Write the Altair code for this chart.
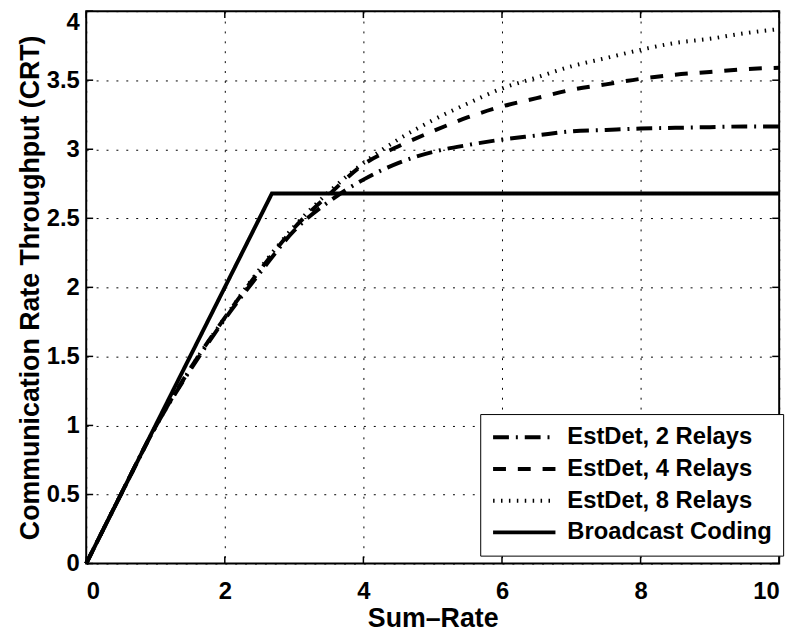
import altair as alt
import pandas as pd

# ---- data ----
x_vals = [0, 0.5, 1, 1.5, 2, 2.5, 3, 3.5, 4, 4.5, 5, 5.5, 6, 6.5, 7, 7.5, 8, 8.5, 9, 9.5, 10]
relay2 = [0, 0.50, 0.99, 1.40, 1.77, 2.10, 2.41, 2.62, 2.78, 2.90, 2.98, 3.03, 3.07, 3.10, 3.13, 3.14, 3.15, 3.155, 3.16, 3.165, 3.165]
relay4 = [0, 0.50, 0.99, 1.41, 1.78, 2.12, 2.43, 2.67, 2.89, 3.02, 3.13, 3.23, 3.31, 3.37, 3.43, 3.47, 3.51, 3.54, 3.56, 3.58, 3.59]
relay8 = [0, 0.50, 0.99, 1.41, 1.78, 2.13, 2.44, 2.69, 2.90, 3.07, 3.21, 3.33, 3.44, 3.52, 3.60, 3.66, 3.72, 3.77, 3.80, 3.84, 3.87]
bc_x = [0, 2.68, 10]
bc_y = [0, 2.68, 2.68]

series_names = ["EstDet, 2 Relays", "EstDet, 4 Relays", "EstDet, 8 Relays", "Broadcast Coding"]
x_ticks = [0, 2, 4, 6, 8, 10]
y_ticks = [0, 0.5, 1, 1.5, 2, 2.5, 3, 3.5, 4]

FONT = "Liberation Sans"

rows = []
for name, ys in zip(series_names[:3], [relay2, relay4, relay8]):
    for i, (xv, yv) in enumerate(zip(x_vals, ys)):
        rows.append({"x": xv, "y": yv, "series": name, "order": i})
est_df = pd.DataFrame(rows)
bc_df = pd.DataFrame({"x": bc_x, "y": bc_y, "series": series_names[3], "order": list(range(len(bc_x)))})

xt_df = pd.DataFrame({"t": x_ticks})
yt_df = pd.DataFrame({"t": y_ticks})

x_scale = alt.Scale(domain=[0, 10], nice=False, zero=False)
y_scale = alt.Scale(domain=[0, 4], nice=False, zero=False)

dash_scale = alt.Scale(
    domain=series_names,
    range=[[16, 7, 2, 7], [13, 12], [1.5, 6.5], [1, 0]],
)

x_axis = alt.Axis(
    values=x_ticks, format="~g", title="Sum\u2013Rate", grid=True, ticks=False, domain=False,
    gridDash=[2, 8], gridColor="black", gridWidth=1, gridOpacity=1,
    labelPadding=16, titlePadding=3,
)
y_axis = alt.Axis(
    values=y_ticks, format="~g", title="Communication Rate Throughput (CRT)", grid=True,
    ticks=False, domain=False,
    gridDash=[2, 8], gridColor="black", gridWidth=1, gridOpacity=1,
    labelPadding=7, titlePadding=2,
    labelBaseline=alt.condition("datum.value == 4", alt.value("top"), alt.value("middle")),
)

legend = alt.Legend(
    title=None, orient="none", legendX=398, legendY=407,
    symbolType="M-1,0H5", symbolSize=441, symbolStrokeWidth=4,
    symbolStrokeColor="black", symbolFillColor="transparent",
    labelOffset=52, labelFontSize=24, labelFont=FONT, labelFontWeight="bold",
    labelColor="black", labelLimit=400,
    fillColor="white", strokeColor="black", padding=11, rowPadding=7,
)

est = alt.Chart(est_df).mark_line(color="black", strokeWidth=4, interpolate="monotone").encode(
    x=alt.X("x:Q", scale=x_scale, axis=x_axis),
    y=alt.Y("y:Q", scale=y_scale, axis=y_axis),
    strokeDash=alt.StrokeDash("series:N", scale=dash_scale, legend=legend),
    order="order:Q",
)

bc = alt.Chart(bc_df).mark_line(color="black", strokeWidth=4).encode(
    x=alt.X("x:Q", scale=x_scale),
    y=alt.Y("y:Q", scale=y_scale),
    strokeDash=alt.StrokeDash("series:N", scale=dash_scale, legend=legend),
    order="order:Q",
)

tick_bottom = alt.Chart(xt_df).mark_rule(color="black", strokeWidth=1.5).encode(
    x=alt.X("t:Q", scale=x_scale), y=alt.value(558), y2=alt.value(551))
tick_top = alt.Chart(xt_df).mark_rule(color="black", strokeWidth=1.5).encode(
    x=alt.X("t:Q", scale=x_scale), y=alt.value(0), y2=alt.value(7))
tick_left = alt.Chart(yt_df).mark_rule(color="black", strokeWidth=1.5).encode(
    y=alt.Y("t:Q", scale=y_scale), x=alt.value(0), x2=alt.value(7))
tick_right = alt.Chart(yt_df).mark_rule(color="black", strokeWidth=1.5).encode(
    y=alt.Y("t:Q", scale=y_scale), x=alt.value(700), x2=alt.value(693))

chart = alt.layer(est, bc, tick_bottom, tick_top, tick_left, tick_right).properties(
    width=700, height=558,
    autosize=alt.AutoSizeParams(type="none"),
    padding={"left": 79, "top": 0, "right": 18, "bottom": 70},
    background="white",
).configure_view(
    stroke="black", strokeWidth=2,
).configure_axis(
    labelFont=FONT, labelFontSize=24, labelFontWeight="bold", labelColor="black",
    titleFont=FONT, titleFontSize=27, titleFontWeight="bold", titleColor="black",
)

chart.save("out.html", embed_options={"renderer": "svg", "actions": False})
